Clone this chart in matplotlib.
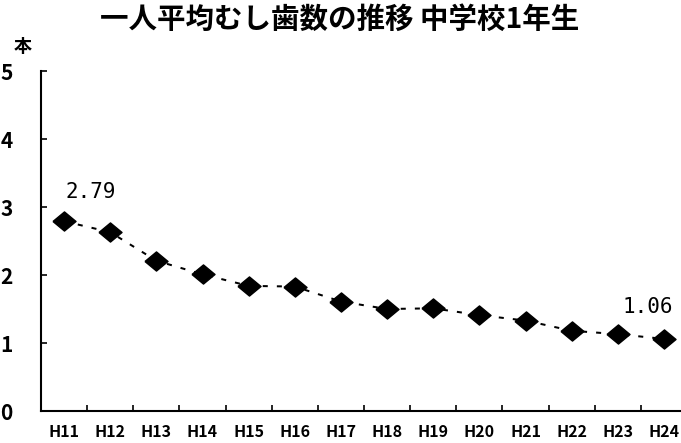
import matplotlib
matplotlib.use("Agg")
import matplotlib.pyplot as plt
from matplotlib import font_manager

# Average number of decayed teeth per pupil, first-year junior high school
years = ["H11", "H12", "H13", "H14", "H15", "H16", "H17",
         "H18", "H19", "H20", "H21", "H22", "H23", "H24"]
teeth = [2.79, 2.63, 2.21, 2.01, 1.84, 1.83, 1.61,
         1.50, 1.51, 1.41, 1.33, 1.18, 1.13, 1.06]
y_ticks = [0, 1, 2, 3, 4, 5]

title = "一人平均むし歯数の推移 中学校1年生"
unit = "本"

names = {f.name for f in font_manager.fontManager.ttflist}
narrow = "Liberation Sans Narrow" if "Liberation Sans Narrow" in names else "Noto Sans CJK JP"
cjk = ["Noto Sans CJK JP", "DejaVu Sans"]

W, H = 681, 443
fig = plt.figure(figsize=(W / 100, H / 100), dpi=100)
x0, x1 = 41, 687
y0, y5 = 411, 71
ax = fig.add_axes([x0 / W, (H - y0) / H, (x1 - x0) / W, (y0 - y5) / H])

xs = list(range(len(years)))
diamond = [(-1, 0), (0, 0.83), (1, 0), (0, -0.83), (-1, 0)]
ax.plot(xs, teeth, color="black", lw=1.45, dashes=(2.5, 4.5),
        marker=diamond, ms=16.6, mfc="black", mec="black", zorder=3)

ax.set_xlim(-0.5, len(years) - 0.5)
ax.set_ylim(0, 5)

for s in ("top", "right"):
    ax.spines[s].set_visible(False)
for s in ("left", "bottom"):
    ax.spines[s].set_linewidth(1.5)
    ax.spines[s].set_color("black")

ax.set_xticks([i - 0.5 for i in range(1, len(years) + 1)])
ax.set_xticklabels([])
ax.set_xticks(xs, minor=True)
ax.set_xticklabels(years, minor=True, fontsize=11.5, fontweight="bold",
                   family=narrow)
ax.tick_params(axis="x", which="major", direction="in", length=4, width=1.2)
ax.tick_params(axis="x", which="minor", length=0, pad=9.5)

ax.set_yticks(y_ticks)
ax.set_yticklabels([str(v) for v in y_ticks], fontsize=15, fontweight="bold",
                   family=narrow)
ax.tick_params(axis="y", direction="in", length=4, width=1.2, pad=20.5)

# value labels at both ends of the series
ax.annotate(f"{teeth[0]:.2f}", (xs[0], teeth[0]), xytext=(1, 29),
            textcoords="offset pixels", ha="left", va="center",
            fontsize=15, family="DejaVu Sans Mono")
ax.annotate(f"{teeth[-1]:.2f}", (xs[-1], teeth[-1]), xytext=(-41, 32),
            textcoords="offset pixels", ha="left", va="center",
            fontsize=15, family="DejaVu Sans Mono")

fig.text(340 / W, 1 - 20 / H, title, ha="center", va="center",
         fontsize=20.5, fontweight="bold", family=cjk)
fig.text(23 / W, 1 - 46 / H, unit, ha="center", va="center",
         fontsize=13, fontweight="bold", family=cjk)

fig.savefig("out.png", dpi=100, facecolor="white")
